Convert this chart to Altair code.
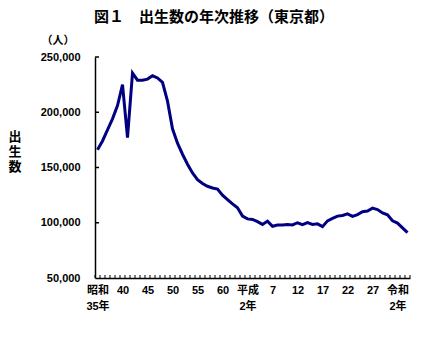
import altair as alt
import pandas as pd

# Data: births in Tokyo, 1960 (昭和35年) to 2022 (令和4年)
years = list(range(1960, 2023))
births = [166000, 174000, 184000, 194000, 206000, 225000, 177000, 235500, 229000, 229000,
          230000, 233000, 231000, 227000, 210000, 185000, 172000, 162000, 153000, 145000,
          139000, 135500, 133000, 131500, 130500, 125000, 121000, 117000, 113500, 106000,
          103500, 103000, 101000, 98500, 101500, 96800, 98000, 98000, 98500, 98000,
          100000, 98300, 100100, 98500, 99000, 96500, 101700, 103900, 106000, 106600,
          108000, 105800, 107400, 109900, 110600, 113200, 111900, 108900, 107200, 101800,
          99700, 95400, 91100]

tick_years = [1960, 1965, 1970, 1975, 1980, 1985, 1990, 1995, 2000, 2005, 2010, 2015, 2020]
tick_labels = ["昭和\n35年", "40", "45", "50", "55", "60", "平成\n2年", "7", "12", "17", "22", "27", "令和\n2年"]
y_ticks = [50000, 100000, 150000, 200000, 250000]

title_text = "図１　出生数の年次推移（東京都）"
unit_text = "（人）"
ytitle_text = "出\n生\n数"

FONT = "Liberation Sans, Noto Sans CJK JP"
W, H = 315, 221

df = pd.DataFrame({"year": years, "births": births})
bounds = pd.DataFrame({"b": [y - 0.5 for y in years] + [years[-1] + 0.5]})
yt = pd.DataFrame({"v": y_ticks[1:]})

expr = ""
for yv, lab in zip(tick_years, tick_labels):
    parts = lab.split("\n")
    if len(parts) > 1:
        s = "[" + ",".join("'" + p + "'" for p in parts) + "]"
    else:
        s = "'" + parts[0] + "'"
    expr += f"datum.value == {yv} ? {s} : "
expr += "''"

xscale = alt.Scale(domain=[years[0] - 0.5, years[-1] + 0.5], nice=False, zero=False)
yscale = alt.Scale(domain=[50000, 250000], nice=False, zero=False)

xaxis = alt.Axis(values=tick_years, labelExpr=expr, title=None, ticks=False,
                 grid=False, domainColor="black", domainWidth=1.5,
                 labelFont=FONT, labelFontSize=11, labelFontWeight="bold",
                 labelColor="black", labelPadding=6, labelLineHeight=16,
                 labelBaseline="top", labelFlush=False, labelOverlap=False,
                 labelBound=False)
yaxis = alt.Axis(values=y_ticks, labelExpr="format(datum.value, ',')", title=None,
                 ticks=False, grid=False,
                 domainColor="black", domainWidth=1.5, labelOverlap=False,
                 labelFont=FONT, labelFontSize=11, labelFontWeight="bold",
                 labelColor="black", labelPadding=15)

line = alt.Chart(df).mark_line(color="#000080", strokeWidth=3).encode(
    x=alt.X("year:Q", scale=xscale, axis=xaxis),
    y=alt.Y("births:Q", scale=yscale, axis=yaxis),
)

xt = alt.Chart(bounds).mark_rule(color="black", strokeWidth=1).encode(
    x=alt.X("b:Q", scale=xscale, axis=xaxis), y=alt.value(H), y2=alt.value(H - 3))

ytk = alt.Chart(yt).mark_rule(color="black", strokeWidth=1.5).encode(
    y=alt.Y("v:Q", scale=yscale, axis=yaxis), x=alt.value(0), x2=alt.value(4))

title = alt.Chart(pd.DataFrame({"t": [title_text]})).mark_text(
    font=FONT, fontSize=15, fontWeight="bold", color="black", baseline="middle", align="center"
).encode(text="t:N", x=alt.value(119), y=alt.value(-40))

unit = alt.Chart(pd.DataFrame({"t": [unit_text]})).mark_text(
    font=FONT, fontSize=11, fontWeight="bold", color="black", baseline="middle", align="center"
).encode(text="t:N", x=alt.value(-37), y=alt.value(-16))

ytitle = alt.Chart(pd.DataFrame({"t": [ytitle_text]})).mark_text(
    font=FONT, fontSize=13, fontWeight="bold", color="black", baseline="top", align="center",
    lineBreak="\n", lineHeight=15
).encode(text="t:N", x=alt.value(-80), y=alt.value(74))

chart = alt.layer(line, xt, ytk, title, unit, ytitle).properties(
    width=W, height=H,
    autosize=alt.AutoSizeParams(type="none"),
    padding={"left": 87, "top": 49, "right": 22, "bottom": 75},
).configure_view(stroke=None)

chart.save("out.html", embed_options={"renderer": "svg", "actions": False})
